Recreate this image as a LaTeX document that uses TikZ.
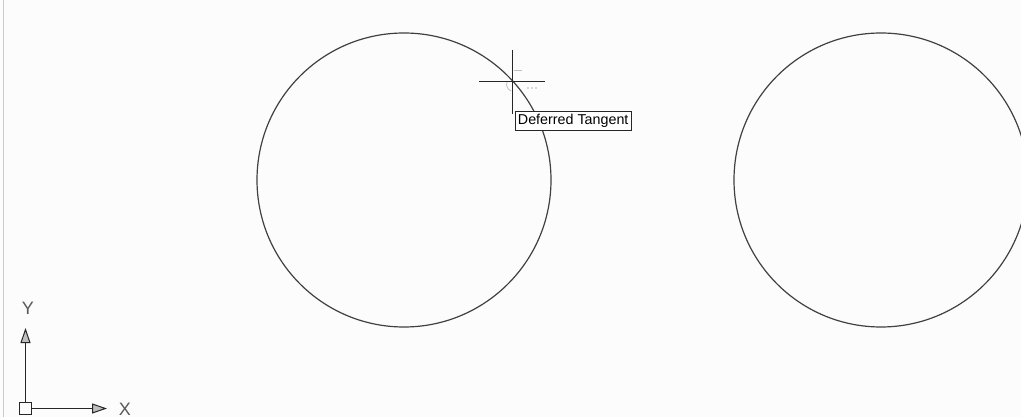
\documentclass[tikz,border=0pt]{standalone}
\usepackage{fontspec}
\setmainfont{Liberation Sans}
\usetikzlibrary{arrows.meta, positioning, calc}

\begin{document}
\begin{tikzpicture}[
        x=1pt, y=-1pt,
        circ/.style={circle, draw=black!75, line width=1.2pt, minimum size=294pt, inner sep=0pt},
        crossline/.style={draw=black!85, line width=1pt},
        tipbox/.style={rectangle, draw=black!85, fill=white, line width=0.9pt, inner xsep=2.5pt, inner ysep=3pt, font=\fontsize{14.3}{16}\selectfont, anchor=north west},
        ucsbox/.style={rectangle, draw=black!85, line width=1pt, minimum size=12pt, inner sep=0pt},
        axislabel/.style={text=black!65, font=\fontsize{18}{20}\selectfont, inner sep=0pt},
        axis/.style={draw=black!85, line width=1pt, -{Triangle[length=15pt, width=10pt, fill=black!25]}}
    ]
        \useasboundingbox[fill=black!1] (0,0) rectangle (1021,417);
        \draw[black!20, line width=1pt] (3,0) -- (3,417);

        \node[circ] (first) at (404,180) {};
        \node[circ] (second) at (881,180) {};

        % snap marker and cursor
        \draw[black!25, line width=0.8pt] (507,82) arc[start angle=200, end angle=110, radius=7];
        \draw[black!25, line width=0.8pt] (514,70) -- (522,70);
        \foreach \dx in {0,4,8} {
            \fill[black!30] (528+\dx,88) circle (0.8);
        }
        \coordinate (pick) at (512,82);
        \draw[crossline] ($(pick)+(-33,0)$) -- ($(pick)+(33,0)$);
        \draw[crossline] ($(pick)+(0,-32)$) -- ($(pick)+(0,32)$);
        \node[tipbox] (tip) at (515,111) {Deferred Tangent};

        % UCS icon
        \node[ucsbox] (origin) at (25.5,408.5) {};
        \coordinate (xend) at (107,408.5);
        \coordinate (yend) at (25.5,328);
        \draw[axis] (origin.east) -- (xend);
        \draw[axis] (origin.north) -- (yend);
        \node[axislabel] (xlabel) at (125,409) {X};
        \node[axislabel] (ylabel) at (28,308) {Y};
    \end{tikzpicture}
\end{document}
